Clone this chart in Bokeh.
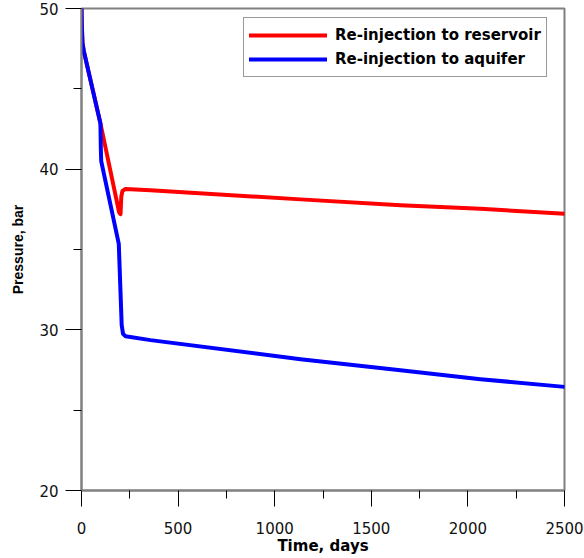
from bokeh.plotting import figure
from bokeh.models import FixedTicker, Legend, LegendItem
from bokeh.embed import file_html
from bokeh.resources import INLINE

# Pressure history, days vs bar
red_days = [0, 1.5, 5, 12, 98, 195, 202, 206, 212, 228, 357, 1134, 1651, 2065, 2500]
red_p = [50, 49.0, 47.85, 47.35, 42.85, 37.3, 37.2, 38.3, 38.65, 38.77, 38.69, 38.12, 37.76, 37.53, 37.23]

blue_days = [0, 1.5, 5, 12, 98, 100, 102, 193, 208, 215, 228, 357, 1134, 1651, 2065, 2500]
blue_p = [50, 49.0, 47.85, 47.35, 42.85, 41.3, 40.5, 35.35, 30.3, 29.75, 29.6, 29.36, 28.17, 27.48, 26.93, 26.45]

x_ticks = [0, 500, 1000, 1500, 2000, 2500]
x_minor = [250, 750, 1250, 1750, 2250]
y_ticks = [20, 30, 40, 50]
y_minor = [25, 35, 45]

FONT = "DejaVu Sans"
FONT_V = "Liberation Sans"

p = figure(width=584, height=558, x_range=(0, 2500), y_range=(20, 50),
           output_backend="svg", toolbar_location=None,
           min_border_left=81, min_border_right=20,
           min_border_top=8, min_border_bottom=68)

p.xgrid.visible = False
p.ygrid.visible = False
p.outline_line_color = "#808080"
p.outline_line_width = 2
p.background_fill_color = "white"
p.border_fill_color = "white"

r_red = p.line(red_days, red_p, line_color="#ff0000", line_width=4,
               line_join="round", line_cap="round")
r_blue = p.line(blue_days, blue_p, line_color="#0000ff", line_width=4,
                line_join="round", line_cap="round")

for ax, ticks, minor in ((p.xaxis[0], x_ticks, x_minor), (p.yaxis[0], y_ticks, y_minor)):
    ax.ticker = FixedTicker(ticks=ticks, minor_ticks=minor)
    ax.axis_line_color = "#808080"
    ax.axis_line_width = 2
    ax.major_tick_line_color = "black"
    ax.minor_tick_line_color = "black"
    ax.major_tick_out = 16
    ax.major_tick_in = 0
    ax.minor_tick_out = 8
    ax.minor_tick_in = 0
    ax.major_label_text_font = FONT
    ax.major_label_text_font_size = "15px"
    ax.major_label_text_color = "#111111"
    ax.axis_label_text_font_style = "bold"
    ax.axis_label_text_color = "black"

p.xaxis.axis_label = "Time, days"
p.xaxis.axis_label_text_font = FONT
p.xaxis.axis_label_text_font_size = "15px"
p.yaxis.axis_label = "Pressure, bar"
p.yaxis.axis_label_text_font = FONT_V
p.yaxis.axis_label_text_font_size = "14px"
p.xaxis.major_label_standoff = 15
p.xaxis.axis_label_standoff = 0
p.yaxis.major_label_standoff = 7
p.yaxis.axis_label_standoff = 10

legend = Legend(items=[
    LegendItem(label="Re-injection to reservoir", renderers=[r_red]),
    LegendItem(label="Re-injection to aquifer", renderers=[r_blue]),
], location=(162, 413))
legend.label_text_font = FONT
legend.label_text_font_size = "15px"
legend.label_text_font_style = "bold"
legend.label_text_color = "black"
legend.glyph_width = 78
legend.glyph_height = 24
legend.label_height = 24
legend.label_standoff = 8
legend.padding = 5
legend.spacing = 0
legend.margin = 0
legend.border_line_color = "#333333"
legend.border_line_width = 1
legend.background_fill_alpha = 1
p.add_layout(legend, "center")

open("out.html", "w").write(file_html(p, INLINE))
